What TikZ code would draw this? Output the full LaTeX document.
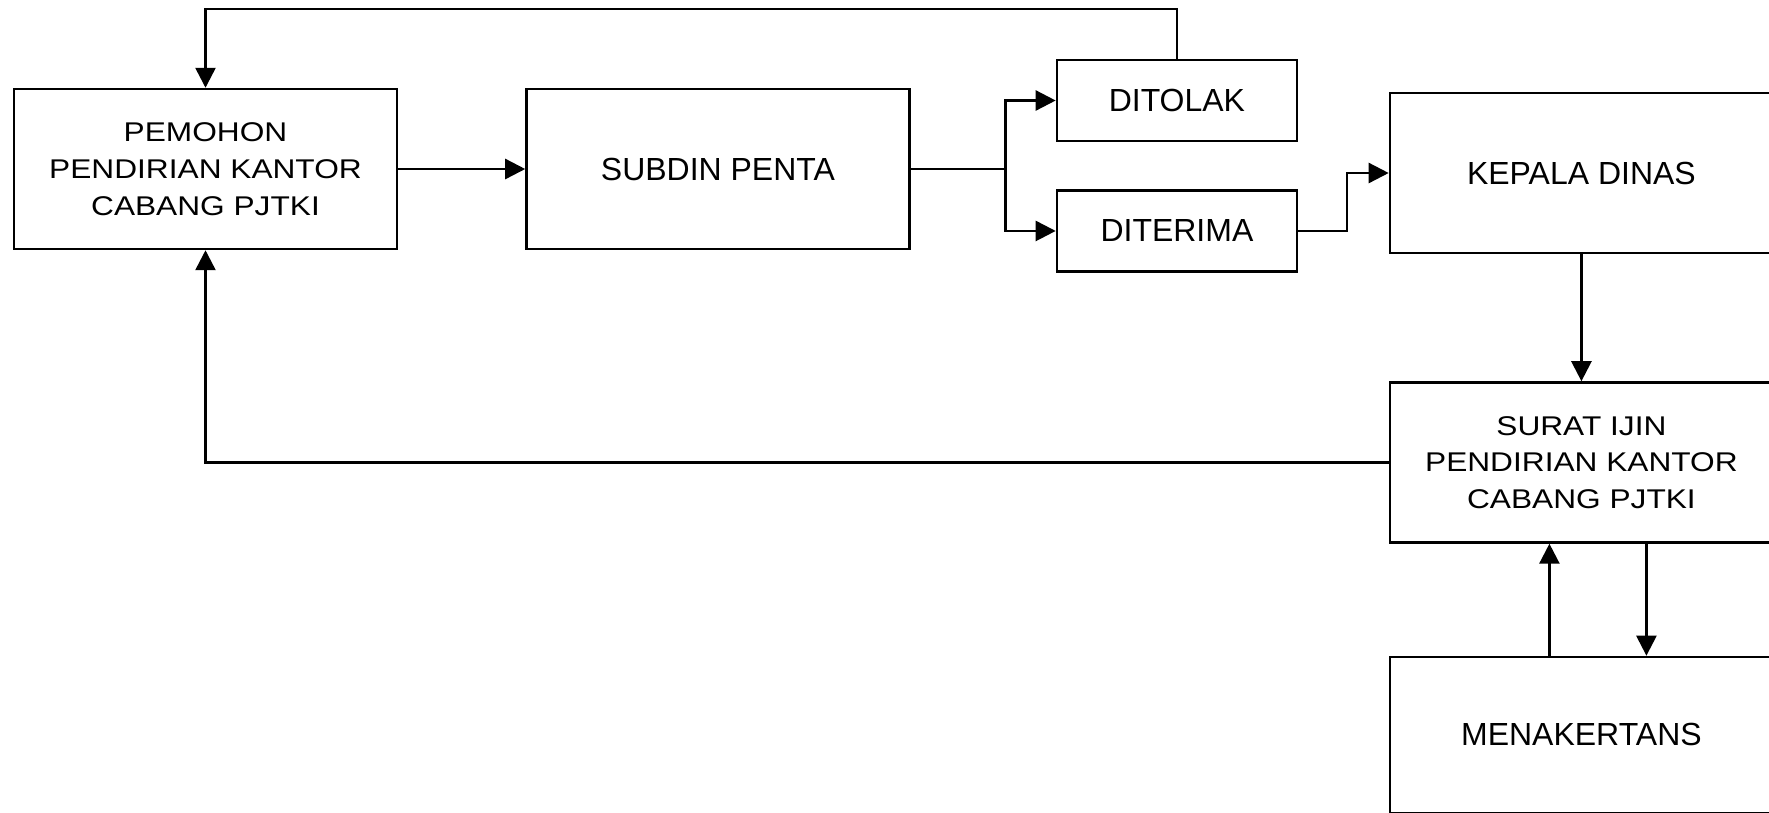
\documentclass[tikz,border=0pt]{standalone}
\usepackage{fontspec}
\setmainfont{Liberation Sans}
\newfontfamily\widefont[FakeStretch=1.17]{Liberation Sans}
\usepackage{tikz}
\usetikzlibrary{arrows.meta, positioning, calc}
\tikzset{
    flowbox/.style={rectangle, draw=black, line width=1.4pt, minimum width=7.66cm, minimum height=3.2cm, inner sep=0pt, align=center, font=\fontsize{18.2}{22}\selectfont},
    flowwide/.style={flowbox, font=\widefont\fontsize{15.4}{20.9}\selectfont},
    flowsmall/.style={rectangle, draw=black, line width=1.4pt, minimum width=4.8cm, minimum height=1.62cm, inner sep=0pt, align=center, font=\fontsize{18.2}{22}\selectfont},
    flowarrow/.style={-{Triangle[length=4mm, width=4mm]}, line width=1.4pt, black},
    flowline/.style={line width=1.4pt, black}
}

\begin{document}
\begin{tikzpicture}[node distance=2.54cm and 2.54cm]

\useasboundingbox (0,0) rectangle (35.38,-16.24);

\node[flowwide] (pemohon) at (4.11,-3.38) {PEMOHON\\PENDIRIAN KANTOR\\CABANG PJTKI};
\node[flowbox, right=of pemohon] (subdin) {SUBDIN PENTA};
\node[flowsmall, right=2.9cm of subdin, yshift=1.37cm] (ditolak) {DITOLAK};
\node[flowsmall, below=0.94cm of ditolak] (diterima) {DITERIMA};
\node[flowbox, right=9.56cm of subdin, yshift=-0.08cm] (kepala) {KEPALA DINAS};
\node[flowwide, below=of kepala] (surat) {SURAT IJIN\\PENDIRIAN KANTOR\\CABANG PJTKI};
\node[flowbox, below=2.24cm of surat, minimum height=3.12cm] (menaker) {MENAKERTANS};

\coordinate[right=1.9cm of subdin.east] (split);

\draw[flowarrow] (pemohon) -- (subdin);
\draw[flowline] (subdin.east) -- (split);
\draw[flowarrow] (split) |- (ditolak.west);
\draw[flowarrow] (split) |- (diterima.west);
\draw[flowarrow] (diterima.east) -- ++(0.98cm,0) |- (kepala.west);
\draw[flowarrow] (ditolak.north) -- ++(0,1.0cm) -| (pemohon.north);
\draw[flowarrow] (kepala) -- (surat);
\draw[flowarrow] (surat.west) -| (pemohon.south);
\draw[flowarrow] ([xshift=-0.64cm]menaker.north) -- ([xshift=-0.64cm]surat.south);
\draw[flowarrow] ([xshift=1.3cm]surat.south) -- ([xshift=1.3cm]menaker.north);

\end{tikzpicture}
\end{document}
